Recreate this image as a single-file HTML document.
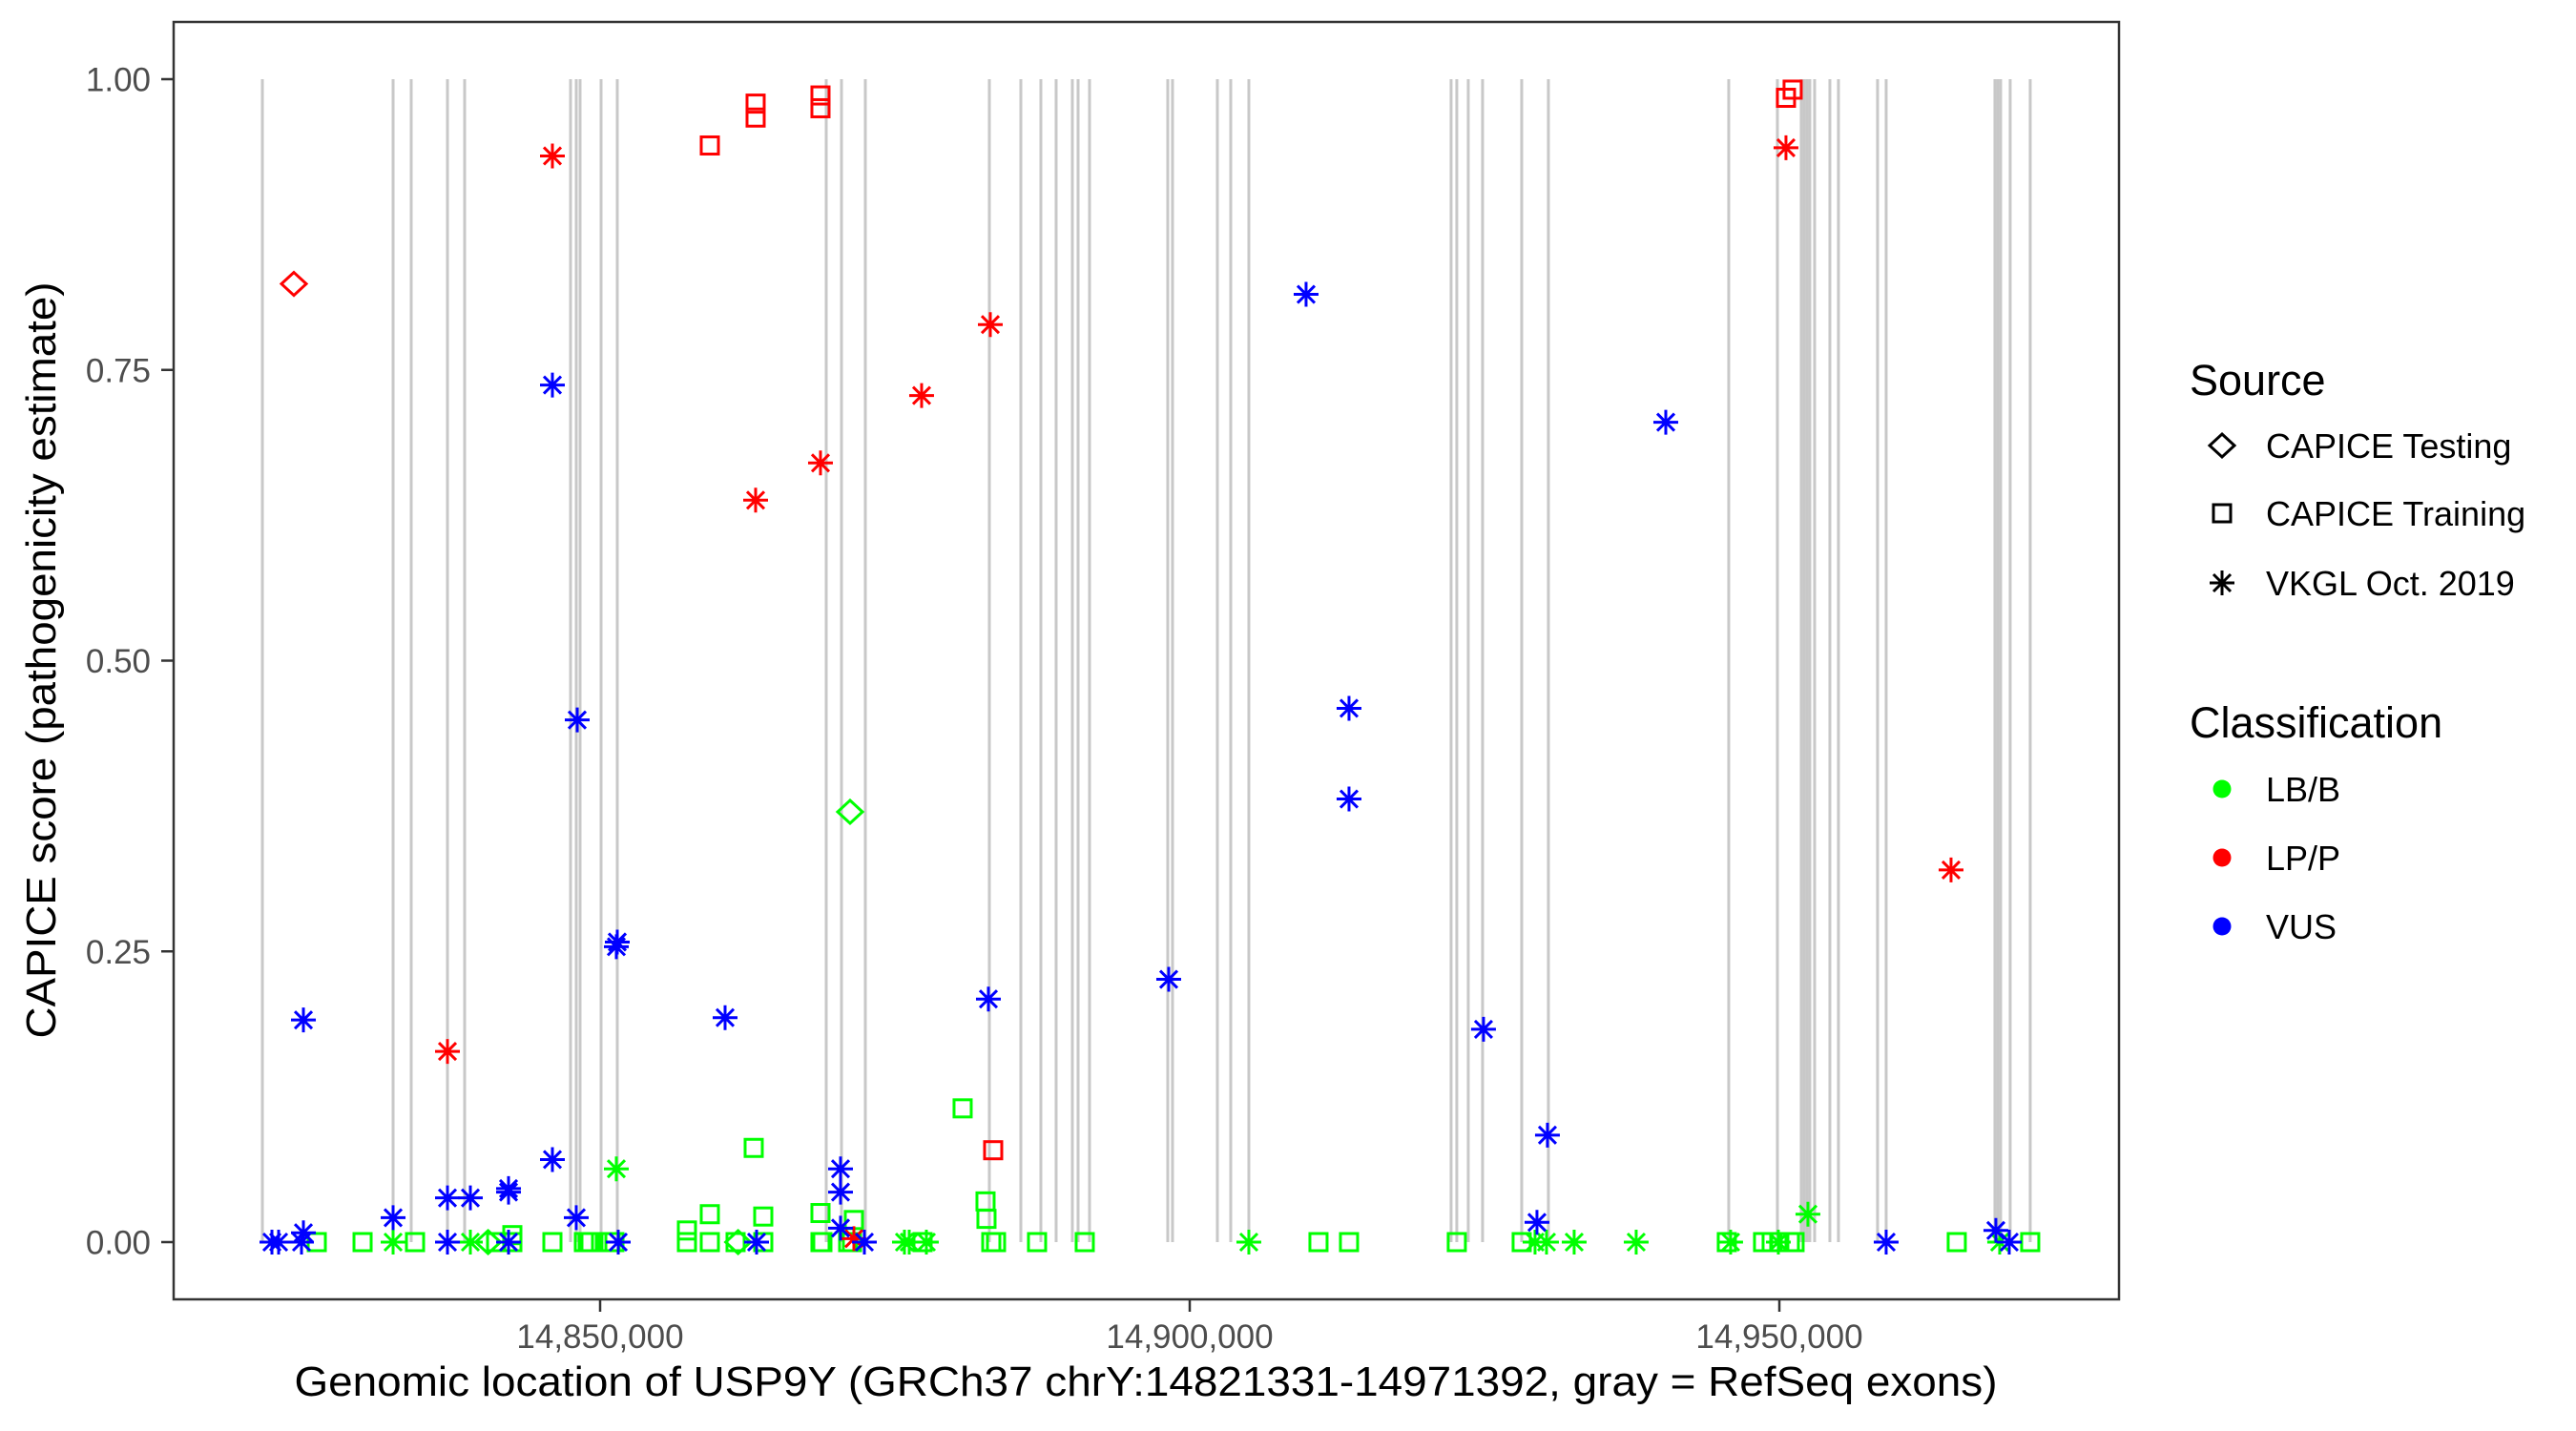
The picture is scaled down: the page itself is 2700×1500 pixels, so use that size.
<!DOCTYPE html>
<html><head><meta charset="utf-8">
<style>
html,body{margin:0;padding:0;background:#fff;}
svg{display:block;font-family:"Liberation Sans",Arial,sans-serif;}
</style></head>
<body>
<svg id="chart" width="2700" height="1500" viewBox="0 0 2700 1500" xmlns="http://www.w3.org/2000/svg">
<rect x="0" y="0" width="2700" height="1500" fill="#fff"/>
<g id="exons"></g>
<g id="points"></g>
<rect x="182" y="23" width="2039" height="1339" fill="none" stroke="#333" stroke-width="2.5"/>
<g id="yaxis"></g>
<g id="xaxis"></g>
<text x="1201" y="1463" text-anchor="middle" font-size="44" textLength="1785" lengthAdjust="spacingAndGlyphs" fill="#000">Genomic location of USP9Y (GRCh37 chrY:14821331-14971392, gray = RefSeq exons)</text>
<text transform="translate(58,692) rotate(-90)" text-anchor="middle" font-size="44" textLength="793" lengthAdjust="spacingAndGlyphs" fill="#000">CAPICE score (pathogenicity estimate)</text>
<g>
<text x="2295" y="414" font-size="45">Source</text>
<g>
<polygon points="2329,455 2342,467 2329,479 2316,467" fill="none" stroke="#000" stroke-width="3"/>
<text x="2375" y="480" font-size="36">CAPICE Testing</text></g>
<g>
<rect x="2320" y="529" width="18" height="18" fill="none" stroke="#000" stroke-width="3"/>
<text x="2375" y="551" font-size="36">CAPICE Training</text></g>
<g>
<path d="M2316,611H2342M2329,598V624M2320,602L2338,620M2338,602L2320,620" stroke="#000" stroke-width="3"/>
<text x="2375" y="624" font-size="36">VKGL Oct. 2019</text></g>
</g>
<g>
<text x="2295" y="773" font-size="45">Classification</text>
<g><circle cx="2329" cy="827" r="9.5" fill="#00ff00"/><text x="2375" y="840" font-size="36">LB/B</text></g>
<g><circle cx="2329" cy="899" r="9.5" fill="#ff0000"/><text x="2375" y="912" font-size="36">LP/P</text></g>
<g><circle cx="2329" cy="971" r="9.5" fill="#0000ff"/><text x="2375" y="984" font-size="36">VUS</text></g>
</g>
</svg>
<script>
const xTicks = [14850000, 14900000, 14950000];
const xTickLabels = ["14,850,000", "14,900,000", "14,950,000"];
const yTicks = [0, 0.25, 0.5, 0.75, 1];
const yTickLabels = ["0.00", "0.25", "0.50", "0.75", "1.00"];
const exonStarts = [14821360,14832445,14833981,14837056,14838511,14847492,14847977,14848301,14850081,14851456,14869174,14870468,14872491,14883008,14885678,14887376,14888671,14890046,14890532,14891503,14898137,14898540,14902344,14903477,14905013,14922162,14922648,14923619,14924833,14928151,14930416,14945708,14949834,14951856,14952099,14952343,14952585,14952990,14954284,14955012,14958329,14959058,14968281,14968523,14968765,14969575,14971274];
// Each: [position, score]
const testingLP = [[14824030,0.824]];
const testingB = [[14871196,0.370],[14840500,0.0],[14861700,0.0]];
const trainingLP = [[14859304,0.943],[14863187,0.979],[14863187,0.967],[14868688,0.986],[14868688,0.975],[14883331,0.079],[14950562,0.984],[14951128,0.991]];
const trainingB = [[14880742,0.115],[14863025,0.081],[14859304,0.024],[14863834,0.022],[14868688,0.025],[14871520,0.019],[14882684,0.035],[14882765,0.020],[14857362,0.010],[14842557,0.006],
 [14825973,0],[14829856,0],[14834305,0],[14841182,0],[14842557,0],[14845955,0],[14848625,0],[14848948,0],[14849191,0],[14850890,0],[14851214,0],[14857362,0],[14859304,0],[14861488,0],[14863834,0],[14868688,0],[14868850,0],[14871034,0],[14871358,0],[14877345,0],[14883170,0],[14883574,0],[14887053,0],[14891098,0],[14910919,0],[14913508,0],[14922648,0],[14928151,0],[14945546,0],[14948621,0],[14949349,0],[14949996,0],[14950886,0],[14951290,0],[14965045,0],[14971274,0]];
const vkglLP = [[14845955,0.934],[14863187,0.638],[14868688,0.670],[14877263,0.728],[14883089,0.789],[14837056,0.164],[14950562,0.941],[14964560,0.320],[14871520,0.003]];
const vkglVUS = [[14845955,0.737],[14848058,0.449],[14851375,0.254],[14851456,0.258],[14824840,0.191],[14860598,0.193],[14882927,0.209],[14898218,0.226],[14909867,0.815],[14940370,0.705],[14913508,0.459],[14913508,0.381],[14924913,0.183],[14930335,0.092],[14929446,0.017],[14845955,0.071],[14837056,0.038],[14838998,0.038],[14842234,0.043],[14842234,0.046],[14832445,0.021],[14847977,0.021],[14870387,0.063],[14870387,0.043],[14870387,0.012],[14968361,0.010],[14824840,0.008],
 [14822170,0],[14822737,0],[14824678,0],[14837056,0],[14842234,0],[14851537,0],[14863268,0],[14872410,0],[14959058,0],[14969494,0]];
const vkglB = [[14851375,0.063],[14952423,0.024],[14832445,0],[14838998,0],[14875807,0],[14876213,0],[14877668,0],[14905013,0],[14929284,0],[14930255,0],[14932601,0],[14937860,0],[14945869,0],[14949915,0],[14968684,0]];

const NS = "http://www.w3.org/2000/svg";
function xScale(v){ return 629 + (v - 14850000) * 618 / 50000; }
function yScale(v){ return 1302 - v * 1219; }
function mk(tag, attrs, parent){ const e = document.createElementNS(NS, tag); for (const k in attrs) e.setAttribute(k, attrs[k]); parent.appendChild(e); return e; }

const exG = document.getElementById('exons');
exonStarts.forEach(p => {
  const l = mk('line', {x1: xScale(p), x2: xScale(p), y1: yScale(1), y2: yScale(0), stroke: '#c8c8c8', 'stroke-width': 3}, exG);
  
  
});

const ptG = document.getElementById('points');
function diamond(d, col){ const x = xScale(d[0]), y = yScale(d[1]);
  const e = mk('polygon', {points: `${x},${y-12} ${x+13},${y} ${x},${y+12} ${x-13},${y}`, fill: 'none', stroke: col, 'stroke-width': 3}, ptG);
  
   }
function square(d, col){ const x = xScale(d[0]), y = yScale(d[1]);
  const e = mk('rect', {x: x-9, y: y-9, width: 18, height: 18, fill: 'none', stroke: col, 'stroke-width': 3}, ptG);
  
   }
function star(d, col){ const x = xScale(d[0]), y = yScale(d[1]);
  const e = mk('path', {d: `M${x-13},${y}H${x+13}M${x},${y-13}V${y+13}M${x-9},${y-9}L${x+9},${y+9}M${x+9},${y-9}L${x-9},${y+9}`, stroke: col, 'stroke-width': 3, fill: 'none'}, ptG);
  
   }
const G = '#00ff00', R = '#ff0000', B = '#0000ff';
trainingB.forEach(d => square(d, G));
testingB.forEach(d => diamond(d, G));
vkglB.forEach(d => star(d, G));
trainingLP.forEach(d => square(d, R));
testingLP.forEach(d => diamond(d, R));
vkglLP.forEach(d => star(d, R));
vkglVUS.forEach(d => star(d, B));

const yG = document.getElementById('yaxis');
yTicks.forEach((t, i) => {
  const y = yScale(t);
  const tk = mk('line', {x1: 169, x2: 182, y1: y, y2: y, stroke: '#333', 'stroke-width': 2.5}, yG);
  
  
  const tx = mk('text', {x: 158, y: y + 12.5, 'text-anchor': 'end', 'font-size': 35, fill: '#4d4d4d'}, yG);
  tx.textContent = yTickLabels[i];
  
  
});
const xG = document.getElementById('xaxis');
xTicks.forEach((t, i) => {
  const x = xScale(t);
  const tk = mk('line', {x1: x, x2: x, y1: 1362, y2: 1375, stroke: '#333', 'stroke-width': 2.5}, xG);
  
  
  const tx = mk('text', {x: x, y: 1413, 'text-anchor': 'middle', 'font-size': 35, fill: '#4d4d4d'}, xG);
  tx.textContent = xTickLabels[i];
  
  
});
</script>
</body></html>
